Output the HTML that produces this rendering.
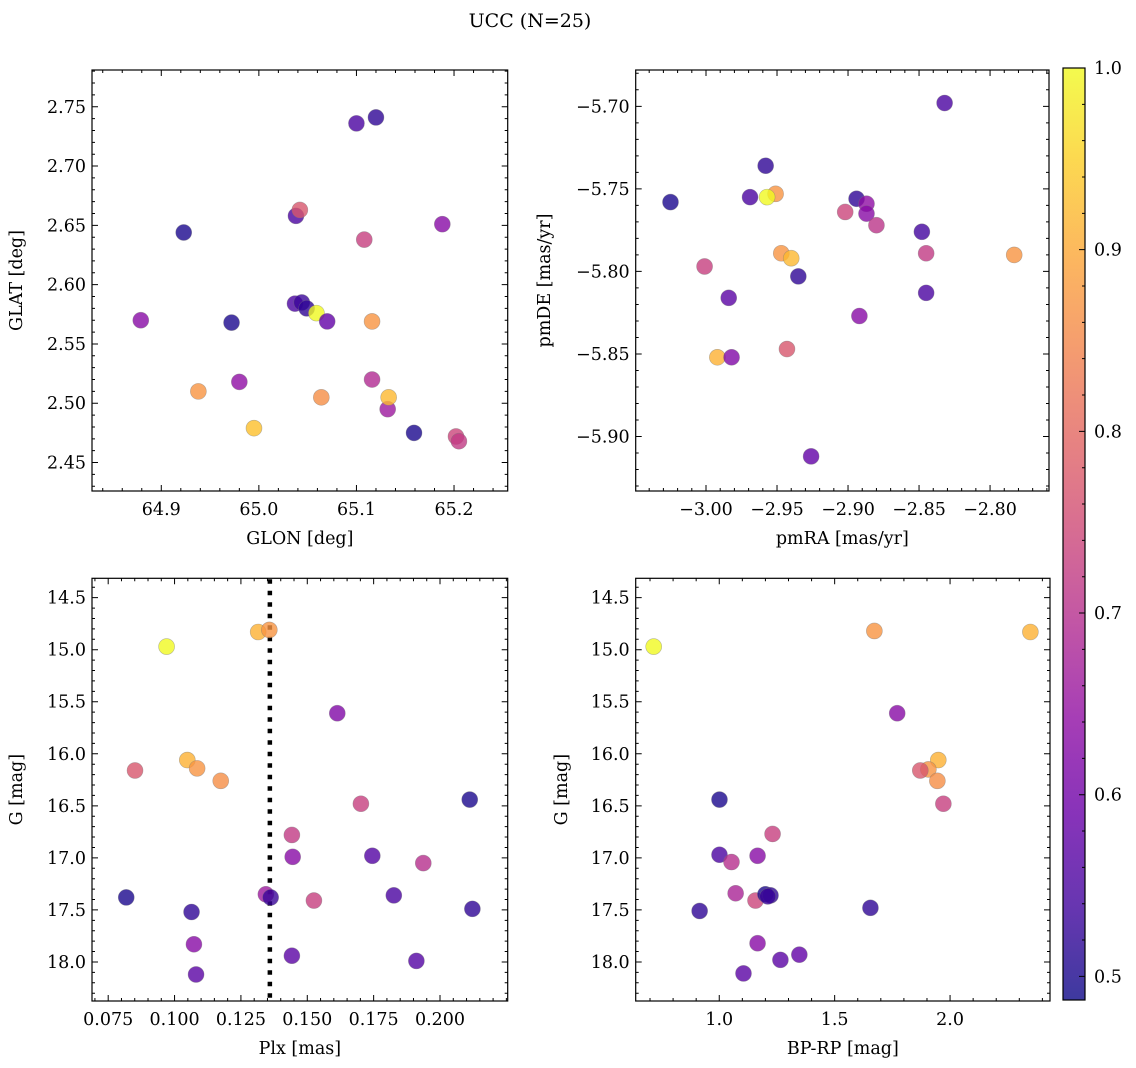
<!DOCTYPE html>
<html><head><meta charset="utf-8"><style>
html,body{margin:0;padding:0;background:#fff;}
svg{display:block;}
svg text{font-family:"DejaVu Serif","Liberation Serif",serif;}
</style></head><body>
<svg id="fig" width="1136" height="1068" viewBox="0 0 1136 1068" xmlns="http://www.w3.org/2000/svg">
<text x="530" y="27" font-size="19" text-anchor="middle" font-family="DejaVu Serif, Liberation Serif, serif">UCC (N=25)</text>
</svg>
<script>
// ---- data ----
const glon=[65.100,65.120,64.923,65.038,65.042,65.108,65.188,65.037,65.044,65.049,65.059,65.070,64.972,64.879,65.116,64.938,64.980,65.064,65.116,65.132,65.133,64.995,65.159,65.202,65.205];
const glat=[2.736,2.741,2.644,2.658,2.663,2.638,2.651,2.584,2.585,2.580,2.576,2.569,2.568,2.570,2.569,2.510,2.518,2.505,2.520,2.495,2.505,2.479,2.475,2.472,2.468];
const probA=[0.55,0.52,0.50,0.55,0.77,0.73,0.63,0.55,0.53,0.52,1.0,0.58,0.50,0.63,0.87,0.87,0.64,0.86,0.69,0.66,0.92,0.93,0.50,0.74,0.72];
const pmra=[-2.832,-2.958,-2.969,-2.951,-2.957,-3.025,-2.894,-2.887,-2.887,-2.902,-2.880,-2.848,-2.845,-2.783,-2.947,-2.940,-3.001,-2.935,-2.845,-2.984,-2.892,-2.943,-2.992,-2.982,-2.926];
const pmde=[-5.698,-5.736,-5.755,-5.753,-5.755,-5.758,-5.756,-5.759,-5.765,-5.764,-5.772,-5.776,-5.789,-5.790,-5.789,-5.792,-5.797,-5.803,-5.813,-5.816,-5.827,-5.847,-5.852,-5.852,-5.912];
const probB=[0.55,0.52,0.55,0.87,1.0,0.50,0.52,0.64,0.63,0.74,0.71,0.54,0.72,0.87,0.87,0.92,0.73,0.52,0.55,0.57,0.63,0.77,0.91,0.62,0.58];
const plx=[0.0970,0.1315,0.1357,0.1613,0.1048,0.1085,0.0851,0.1174,0.1702,0.2112,0.1442,0.1445,0.1745,0.1937,0.0818,0.1344,0.1362,0.1826,0.1525,0.2122,0.1064,0.1073,0.1442,0.1911,0.1081];
const gmagC=[14.97,14.83,14.81,15.61,16.06,16.14,16.16,16.26,16.48,16.44,16.78,16.99,16.98,17.05,17.38,17.35,17.38,17.36,17.41,17.49,17.52,17.83,17.94,17.99,18.12];
const probC=[1.0,0.91,0.87,0.62,0.91,0.87,0.77,0.86,0.73,0.50,0.72,0.63,0.56,0.70,0.50,0.66,0.53,0.55,0.73,0.52,0.52,0.63,0.57,0.56,0.57];
const plxLine=[0.1359];
const bprp=[0.716,1.672,2.348,1.771,1.949,1.906,1.871,1.945,1.971,1.001,1.231,1.001,1.053,1.166,1.071,1.157,1.200,1.222,0.915,1.655,1.166,1.265,1.347,1.105,1.210];
const gmagD=[14.97,14.82,14.83,15.61,16.06,16.15,16.16,16.26,16.48,16.44,16.77,16.97,17.04,16.98,17.34,17.41,17.35,17.36,17.51,17.48,17.82,17.98,17.93,18.11,17.37];
const probD=[1.0,0.87,0.91,0.63,0.91,0.87,0.77,0.86,0.73,0.50,0.73,0.55,0.70,0.63,0.68,0.74,0.50,0.52,0.52,0.52,0.63,0.57,0.58,0.57,0.53];
const cbTicks=[0.5,0.6,0.7,0.8,0.9,1.0];
const VMIN=0.487, VMAX=1.0;

const NS="http://www.w3.org/2000/svg";
const FONT="DejaVu Serif, Liberation Serif, serif";
const TS=17.5, LS=17.5;
const svg=document.getElementById('fig');
function el(tag,attrs,parent){const e=document.createElementNS(NS,tag);for(const k in attrs)e.setAttribute(k,attrs[k]);(parent||svg).appendChild(e);return e;}
const stops=[[13,8,135],[65,4,157],[106,0,168],[143,13,164],[177,42,144],[204,71,120],[225,100,98],[242,132,75],[252,166,54],[252,206,37],[240,249,33]];
function plasma(v){let t=(v-VMIN)/(VMAX-VMIN);t=Math.max(0,Math.min(1,t))*10;const i=Math.min(9,Math.floor(t)),f=t-i;const a=stops[i],b=stops[i+1];return 'rgb('+a.map((c,k)=>Math.round(c+(b[k]-c)*f)).join(',')+')';}
function fmt(v,d){const s=Math.abs(v).toFixed(d);return (v<0?'\u2212':'')+s;}

function panel(cfg){
  const g=el('g',{'font-family':FONT});
  
  
  const L=cfg.box[0],T=cfg.box[1],R=cfg.box[2],B=cfg.box[3];
  const sx=v=>L+(v-cfg.xlim[0])/(cfg.xlim[1]-cfg.xlim[0])*(R-L);
  const sy=v=>T+(v-cfg.ylim[0])/(cfg.ylim[1]-cfg.ylim[0])*(B-T);
  const mx=[],my=[];
  for(let v=Math.ceil(Math.min(...cfg.xlim)/cfg.xminor-1e-6)*cfg.xminor;v<=Math.max(...cfg.xlim)+1e-9;v+=cfg.xminor)mx.push(v);
  for(let v=Math.ceil(Math.min(...cfg.ylim)/cfg.yminor-1e-6)*cfg.yminor;v<=Math.max(...cfg.ylim)+1e-9;v+=cfg.yminor)my.push(v);
  let d='';
  mx.forEach(v=>{const x=sx(v);d+=`M${x},${B}v-3M${x},${T}v3`;});
  my.forEach(v=>{const y=sy(v);d+=`M${L},${y}h3M${R},${y}h-3`;});
  cfg.xticks.forEach(v=>{const x=sx(v);d+=`M${x},${B}v-6M${x},${T}v6`;});
  cfg.yticks.forEach(v=>{const y=sy(v);d+=`M${L},${y}h6M${R},${y}h-6`;});
  const tk=el('path',{d:d,stroke:'#000','stroke-width':1,fill:'none'},g);
  
  
  cfg.xticks.forEach(v=>{const t=el('text',{x:sx(v),y:B+24,'font-size':TS,'text-anchor':'middle'},g);t.textContent=fmt(v,cfg.xd);
    
    });
  cfg.yticks.forEach(v=>{const t=el('text',{x:L-6,y:sy(v)+6,'font-size':TS,'text-anchor':'end'},g);t.textContent=fmt(v,cfg.yd);
    
    });
  const xl=el('text',{x:(L+R)/2,y:B+53,'font-size':LS,'text-anchor':'middle'},g);xl.textContent=cfg.xlabel;
  
  
  const yx=cfg.ylx,yy=(T+B)/2;
  const yl=el('text',{x:yx,y:yy,'font-size':LS,'text-anchor':'middle',transform:`rotate(-90 ${yx} ${yy})`},g);yl.textContent=cfg.ylabel;
  
  
  if(cfg.vline){cfg.vline.forEach(v=>{const ln=el('line',{x1:sx(v),x2:sx(v),y1:T+1,y2:B,stroke:'#000','stroke-width':4.5,'stroke-dasharray':'4.5,7'},g);
    
    });}
  cfg.x.forEach((_,i)=>{const c=el('circle',{cx:sx(cfg.x[i]),cy:sy(cfg.y[i]),r:8,fill:plasma(cfg.c[i]),'fill-opacity':0.8,stroke:'#777','stroke-opacity':0.5,'stroke-width':0.6},g);
    
    });
  const fr=el('rect',{x:L,y:T,width:R-L,height:B-T,fill:'none',stroke:'#000','stroke-width':1.2},g);
  
  
}

panel({name:'glon-glat-panel',box:[92,70,507.7,491],xlim:[64.829,65.255],ylim:[2.781,2.426],
  xticks:[64.9,65.0,65.1,65.2],yticks:[2.45,2.50,2.55,2.60,2.65,2.70,2.75],xminor:0.02,yminor:0.01,xd:1,yd:2,
  xlabel:'GLON [deg]',ylabel:'GLAT [deg]',ylx:22,x:glon,y:glat,c:probA});
panel({name:'pm-panel',box:[635.7,70,1049,491],xlim:[-3.0495,-2.7585],ylim:[-5.678,-5.933],
  xticks:[-3.00,-2.95,-2.90,-2.85,-2.80],yticks:[-5.90,-5.85,-5.80,-5.75,-5.70],xminor:0.01,yminor:0.01,xd:2,yd:2,
  xlabel:'pmRA [mas/yr]',ylabel:'pmDE [mas/yr]',ylx:550,x:pmra,y:pmde,c:probB});
panel({name:'plx-g-panel',box:[92,578.3,507.7,1001],xlim:[0.0689,0.2255],ylim:[14.314,18.375],
  xticks:[0.075,0.100,0.125,0.150,0.175,0.200],yticks:[14.5,15.0,15.5,16.0,16.5,17.0,17.5,18.0],xminor:0.005,yminor:0.1,xd:3,yd:1,
  xlabel:'Plx [mas]',ylabel:'G [mag]',ylx:22,x:plx,y:gmagC,c:probC,vline:plxLine});
panel({name:'cmd-panel',box:[635.7,578.3,1050,1001],xlim:[0.638,2.433],ylim:[14.314,18.375],
  xticks:[1.0,1.5,2.0],yticks:[14.5,15.0,15.5,16.0,16.5,17.0,17.5,18.0],xminor:0.1,yminor:0.1,xd:1,yd:1,
  xlabel:'BP-RP [mag]',ylabel:'G [mag]',ylx:567,x:bprp,y:gmagD,c:probD});

(function(){
  const g=el('g',{'font-family':FONT});
  
  
  const L=1063,R=1085,T=68,B=1000;
  const sy=v=>B-(v-VMIN)/(VMAX-VMIN)*(B-T);
  const defs=el('defs',{},g);
  const lg=el('linearGradient',{id:'cbg',x1:0,y1:1,x2:0,y2:0},defs);
  for(let k=0;k<=20;k++){const v=VMIN+(VMAX-VMIN)*k/20;el('stop',{offset:k/20,'stop-color':plasma(v),'stop-opacity':0.8},lg);}
  const r=el('rect',{x:L,y:T,width:R-L,height:B-T,fill:'url(#cbg)',stroke:'#000','stroke-width':1.2},g);
  
  
  let d='';
  for(let v=0.5;v<=1.0001;v+=0.02){d+=`M${R},${sy(v)}h-3`;}
  cbTicks.forEach(v=>{d+=`M${R},${sy(v)}h-6`;});
  const p=el('path',{d:d,stroke:'#000','stroke-width':1},g);
  
  
  cbTicks.forEach(v=>{const t=el('text',{x:R+9,y:sy(v)+6,'font-size':TS},g);t.textContent=v.toFixed(1);
    
    });
})();
</script>
</body></html>
